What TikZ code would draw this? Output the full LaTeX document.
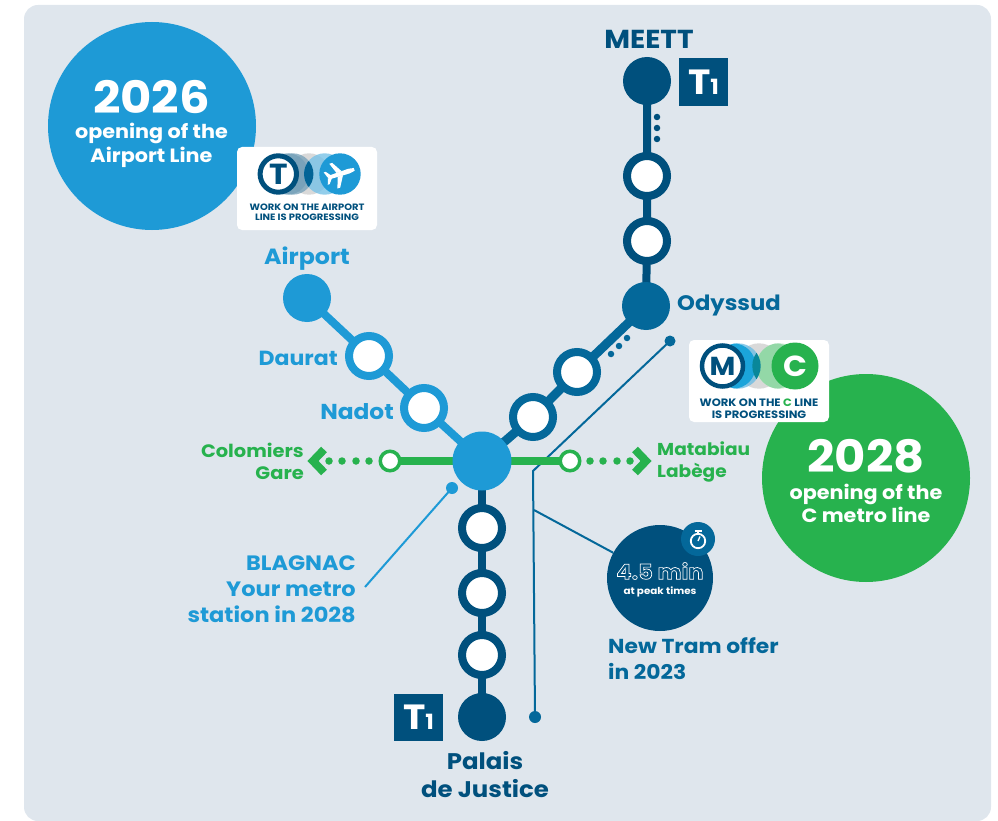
\documentclass[tikz,border=0pt]{standalone}
\usepackage{fontspec}
\setmainfont{Poppins}[FakeStretch=1.08]
\usetikzlibrary{backgrounds}
\definecolor{bgc}{HTML}{DFE6ED}
\definecolor{navy}{HTML}{00507D}
\definecolor{teal2}{HTML}{04689A}
\definecolor{sky}{HTML}{1E9AD6}
\definecolor{grn}{HTML}{27B24E}
\newcommand{\fsz}[2]{\fontsize{#1}{#2}\selectfont\bfseries}
\newcommand{\outlined}[1]{\special{pdf:code 1 Tr 0.7 w 1 1 1 RG}#1\special{pdf:code 0 Tr 0 0 0 RG}}
\tikzset{
  stn/.style={circle,draw=#1,fill=white,line width=8pt,minimum size=40pt,inner sep=0pt},
  term/.style={circle,fill=#1,minimum size=48pt,inner sep=0pt},
  minor/.style={circle,draw=grn,fill=white,line width=3.5pt,minimum size=19.5pt,inner sep=0pt},
  dotmark/.style={circle,fill=#1,minimum size=6.5pt,inner sep=0pt},
  gdot/.style={circle,fill=grn,minimum size=7.5pt,inner sep=0pt},
  linkk/.style={line width=8pt,draw=#1},
  callout/.style={line width=2pt,draw=#1},
  badge/.style={fill=navy,minimum width=49pt,minimum height=48pt,inner sep=0pt,text=white},
  card/.style={fill=white,rounded corners=5pt,minimum width=140pt,minimum height=83pt,inner sep=0pt},
  lbl/.style={font=\fsz{22}{28},text=#1,inner sep=0pt},
  cardtxt/.style={font=\fsz{9.2}{10},text=navy,align=center,inner sep=0pt},
  big/.style={circle,fill=#1,minimum size=208pt,inner sep=0pt},
}
\begin{document}
\begin{tikzpicture}[x=1pt,y=-1pt]
\useasboundingbox (0,0) rectangle (998,821);
% big circles
\node[big=sky] (c26) at (152,126) {};
\node[big=grn] (c28) at (866,478) {};
\node[text=white,font=\fsz{44.5}{44},inner sep=0pt] (y26) at (151.5,97) {2026};
\node[text=white,font=\fsz{19.2}{24},align=center,inner sep=0pt] (t26) at (151.5,145) {opening of the\\Airport Line};
\node[text=white,font=\fsz{44.5}{44},inner sep=0pt] (y28) at (866,456) {2028};
\node[text=white,font=\fsz{19.2}{23},align=center,inner sep=0pt] (t28) at (866,503) {opening of the\\C metro line};
% card 1
\node[card] (card1) at (307,188.5) {};
\fill[gray!30] (309,174) circle (20.7);
\fill[navy!55!white,opacity=.75] (292.7,174) circle (20.7);
\fill[navy!55!white,opacity=.75] (287.7,174) circle (20.7);
\fill[sky!60!white,opacity=.8] (324.7,174) circle (20.7);
\begin{scope}\clip (292.7,174) circle (20.7);\fill[teal2!85!navy] (324.7,174) circle (20.7);\end{scope}
\node[circle,draw=navy,fill=white,line width=5pt,minimum size=36.4pt,inner sep=0pt,text=navy,font=\fsz{29}{29}] (tc) at (278.3,174) {T};
\node[circle,fill=sky,minimum size=41.4pt,inner sep=0pt] (pl) at (340,174) {};
\begin{scope}[shift={(340,174)},rotate=18]
\fill[white,rounded corners=1.5pt] (-13,-1.8) -- (8,-2.4) .. controls (11,-2.4) and (15,-1.2) .. (15,0) .. controls (15,1.2) and (11,2.4) .. (8,2.4) -- (-13,1.8) -- cycle;
\fill[white] (2.5,-2) -- (-4,-13) -- (-7,-13) -- (-3,-2) -- cycle;
\fill[white] (2.5,2) -- (-4,13) -- (-7,13) -- (-3,2) -- cycle;
\fill[white] (-9,-1.5) -- (-13,-6.5) -- (-15,-6.5) -- (-13,-1) -- cycle;
\fill[white] (-9,1.5) -- (-13,6.5) -- (-15,6.5) -- (-13,1) -- cycle;
\end{scope}
\node[cardtxt] (ct1) at (307,212) {WORK ON THE AIRPORT\\LINE IS PROGRESSING};
% card 2
\node[card,minimum height=82pt] (card2) at (759,381) {};
\fill[gray!30] (759,366) circle (22.7);
\fill[sky!65!white,opacity=.8] (738,366) circle (22.7);
\fill[grn!35!white,opacity=.9] (779,366) circle (22.7);
\begin{scope}\clip (779,366) circle (22.7);\fill[grn!50!white] (775,366) circle (22.7);\end{scope}
\begin{scope}\clip (738,366) circle (22.7);\fill[sky!90!cyan] (733,366) circle (22.7);\end{scope}
\begin{scope}\clip (738,366) circle (22.7);\fill[teal!70!sky] (775,366) circle (22.7);\end{scope}
\node[circle,draw=navy,fill=white,line width=4.5pt,minimum size=41pt,inner sep=0pt,text=navy,font=\fsz{26}{26}] (mc) at (722.5,366) {M};
\node[circle,fill=grn,minimum size=47pt,inner sep=0pt,text=white,font=\fsz{29}{29}] (cc) at (795,366) {C};
\node[cardtxt,font=\fsz{10.7}{11.5}] (ct2) at (759,408.5) {WORK ON THE {\color{grn}C} LINE\\IS PROGRESSING};
% stations
\node[term=navy] (meett) at (647,81) {};
\node[stn=navy] (n1) at (647,176) {};
\node[stn=navy] (n2) at (647,241) {};
\node[term=teal2] (ody) at (646,306) {};
\node[stn=teal2] (d1) at (577,372) {};
\node[stn=teal2] (d2) at (533,417) {};
\node[circle,fill=sky,minimum size=59pt,inner sep=0pt] (hub) at (482,461) {};
\node[term=sky] (apt) at (307,298) {};
\node[stn=sky] (dau) at (369,356) {};
\node[stn=sky] (nad) at (424,408) {};
\node[stn=navy] (s1) at (482,528) {};
\node[stn=navy] (s2) at (482,593) {};
\node[stn=navy] (s3) at (482,655) {};
\node[term=navy] (pal) at (482,717) {};
\node[minor] (gl) at (390,461) {};
\node[minor] (gr) at (570,461) {};
% dots
\foreach \n/\y in {a/117,b/128,c/139} \node[dotmark=navy] (mt\n) at (657,\y) {};
\node[dotmark=teal2] (od1) at (627,338) {};
\node[dotmark=teal2] (od2) at (619,346) {};
\node[dotmark=teal2] (od3) at (611,354) {};
\foreach \n/\x in {a/329,b/342,c/356,d/369} \node[gdot] (gld\n) at (\x,461) {};
\foreach \n/\x in {a/590,b/603,c/617,d/630} \node[gdot] (grd\n) at (\x,461) {};
\coordinate (cl1) at (324,449.5);
\coordinate (cl2) at (313,461);
\coordinate (cl3) at (324,472.5);
\coordinate (cr1) at (635,449.5);
\coordinate (cr2) at (646,461);
\coordinate (cr3) at (635,472.5);
\draw[grn,line width=8pt,miter limit=10] (cl1) -- (cl2) -- (cl3);
\draw[grn,line width=8pt,miter limit=10] (cr1) -- (cr2) -- (cr3);
% callout targets
\node[circle,fill=sky,minimum size=12pt,inner sep=0pt] (cb) at (452,488) {};
\coordinate (cbe) at (365,587);
\node[circle,fill=teal2,minimum size=11pt,inner sep=0pt] (ct) at (670,341) {};
\node[circle,fill=teal2,minimum size=12pt,inner sep=0pt] (cbot) at (535,717) {};
\coordinate (ckink) at (533,471);
\coordinate (cbr) at (534,510);
% tram circle
\node[circle,fill=navy,minimum size=106pt,inner sep=0pt] (tram) at (660,578) {};
\node[circle,fill=teal2,minimum size=34pt,inner sep=0pt] (watch) at (698,539) {};
\draw[white,line width=1.8pt] (698,541) circle (7.2);
\draw[white,line width=2pt] (694.5,530.5) -- (701.5,530.5);
\draw[white,line width=1.4pt] (698,531) -- (698,534);
\draw[white,line width=1.3pt] (698,541) -- (700,536.5);
\node[text=white,font=\fsz{21}{21},inner sep=0pt] (mins) at (660,571) {\outlined{4.5 min}};
\node[text=white,font=\fsz{9.6}{11},inner sep=0pt] (peak) at (660,591.5) {at peak times};
% badges
\node[badge] (bt) at (703.5,82) {\fsz{35}{35}T\fsz{21}{21}1};
\node[badge,minimum height=47pt] (bb) at (418.5,717.5) {\fsz{35}{35}T\fsz{21}{21}1};
% labels
\node[lbl=navy,font=\fsz{26}{28}] (lm) at (649,39.5) {MEETT};
\node[lbl=sky,font=\fsz{22}{28}] (la) at (307,258.5) {Airport};
\node[lbl=sky,anchor=east,font=\fsz{20.4}{28}] (ld) at (338,358.5) {Daurat};
\node[lbl=sky,anchor=east,font=\fsz{21.6}{28}] (ln) at (394,411.5) {Nadot};
\node[lbl=teal2,anchor=west,font=\fsz{21}{28}] (lo) at (677,306) {Odyssud};
\node[lbl=grn,font=\fsz{18}{22},anchor=east,align=right] (lc) at (304,461.5) {Colomiers\\Gare};
\node[lbl=grn,font=\fsz{17.2}{22},anchor=west,align=left] (lt) at (657,461.5) {Matabiau\\Labège};
\node[lbl=sky,font=\fsz{20.8}{26},anchor=east,align=right] (lb) at (356,589) {BLAGNAC\\Your metro\\station in 2028};
\node[lbl=teal2,font=\fsz{20.2}{26},anchor=west,align=left] (lnt) at (608,659) {New Tram offer\\in 2023};
\node[lbl=navy,font=\fsz{22.6}{28},align=center] (lp) at (485,774.5) {Palais\\de Justice};
% connectors on background
\begin{pgfonlayer}{background}
\fill[bgc,rounded corners=14pt] (24,5) rectangle (991,821);
\draw[callout=sky] (cb.center) -- (cbe);
\draw[callout=teal2] (ct.center) -- (ckink) -- (cbot.center);
\draw[callout=teal2] (cbr) -- (tram);
\draw[linkk=navy] (meett.center) -- (n1.center) -- (n2.center) -- (ody.center);
\draw[linkk=teal2,line width=9pt] (ody.center) -- (d1.center) -- (d2.center) -- (hub.center);
\draw[linkk=sky] (apt.center) -- (dau.center) -- (nad.center) -- (hub.center);
\draw[linkk=navy] (hub.center) -- (s1.center) -- (s2.center) -- (s3.center) -- (pal.center);
\draw[linkk=grn] (gl.center) -- (gr.center);
\end{pgfonlayer}
\end{tikzpicture}
\end{document}
